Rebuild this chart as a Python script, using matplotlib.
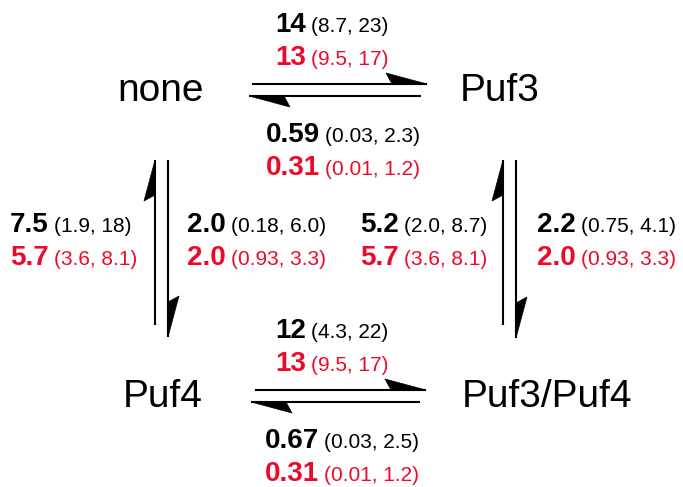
import matplotlib
matplotlib.use('Agg')
import matplotlib.pyplot as plt
from matplotlib.patches import Polygon

plt.rcParams['font.family'] = ['Liberation Sans', 'DejaVu Sans']

# states of the scheme
nodes = ['none', 'Puf3', 'Puf4', 'Puf3/Puf4']

# rates (bold) and intervals, black = first fit, red = second fit
# order: none->Puf3, Puf3->none, Puf4->none, none->Puf4,
#        Puf3/Puf4->Puf3, Puf3->Puf3/Puf4, Puf4->Puf3/Puf4, Puf3/Puf4->Puf4
rate_black = ['14', '0.59', '7.5', '2.0', '5.2', '2.2', '12', '0.67']
ci_black = ['(8.7, 23)', '(0.03, 2.3)', '(1.9, 18)', '(0.18, 6.0)',
            '(2.0, 8.7)', '(0.75, 4.1)', '(4.3, 22)', '(0.03, 2.5)']
rate_red = ['13', '0.31', '5.7', '2.0', '5.7', '2.0', '13', '0.31']
ci_red = ['(9.5, 17)', '(0.01, 1.2)', '(3.6, 8.1)', '(0.93, 3.3)',
          '(3.6, 8.1)', '(0.93, 3.3)', '(9.5, 17)', '(0.01, 1.2)']

RED = '#ec0a2a'

fig = plt.figure(figsize=(6.83, 4.87), dpi=100)
ax = fig.add_axes([0, 0, 1, 1])
ax.set_xlim(0, 683)
ax.set_ylim(487, 0)
ax.axis('off')

# node labels (pixel layout)
node_xy = [(161, 101), (500, 101), (163, 407), (547, 407)]
for name, (x, y) in zip(nodes, node_xy):
    ax.text(x, y, name, fontsize=28, ha='center', va='baseline')


def half_arrow(x0, y0, x1, y1, side=-1):
    # line from tail (x0,y0) to tip (x1,y1) with a one-sided barb
    ax.plot([x0, x1], [y0, y1], color='black', lw=1.5, solid_capstyle='butt')
    dx, dy = x1 - x0, y1 - y0
    n = (dx**2 + dy**2) ** 0.5
    ux, uy = dx / n, dy / n
    px, py = -uy * side, ux * side
    back_out, back_in, w = 41, 35, 11
    pts = [(x1, y1),
           (x1 - ux * back_out + px * w, y1 - uy * back_out + py * w),
           (x1 - ux * back_in, y1 - uy * back_in)]
    ax.add_patch(Polygon(pts, closed=True, color='black', lw=0.5))


# top pair
half_arrow(252, 84, 427, 84)
half_arrow(421, 96, 249, 96)
# bottom pair
half_arrow(255, 390, 426, 390)
half_arrow(420, 402, 251, 402)
# left pair
half_arrow(155, 325, 155, 160)
half_arrow(168, 160, 168, 337)
# right pair
half_arrow(503, 325, 503, 160)
half_arrow(516, 160, 516, 338)

# label positions (left edge, baseline of black line)
label_xy = [(275, 32), (266, 142), (10, 232), (187, 232),
            (360, 232), (537, 232), (275, 338), (265, 448)]

fig.canvas.draw()
renderer = fig.canvas.get_renderer()


def rate_label(x, y, rate, ci, color):
    t = ax.text(x, y, rate, fontsize=20, fontweight='bold', color=color,
                ha='left', va='baseline')
    bb = t.get_window_extent(renderer)
    xr = ax.transData.inverted().transform((bb.x1, 0))[0]
    ax.text(xr + 5, y, ci, fontsize=15, color=color, ha='left', va='baseline')


for (x, y), rb, cb, rr, cr in zip(label_xy, rate_black, ci_black, rate_red, ci_red):
    rate_label(x, y, rb, cb, 'black')
    rate_label(x, y + 33, rr, cr, RED)

fig.savefig('out.png', dpi=100)
